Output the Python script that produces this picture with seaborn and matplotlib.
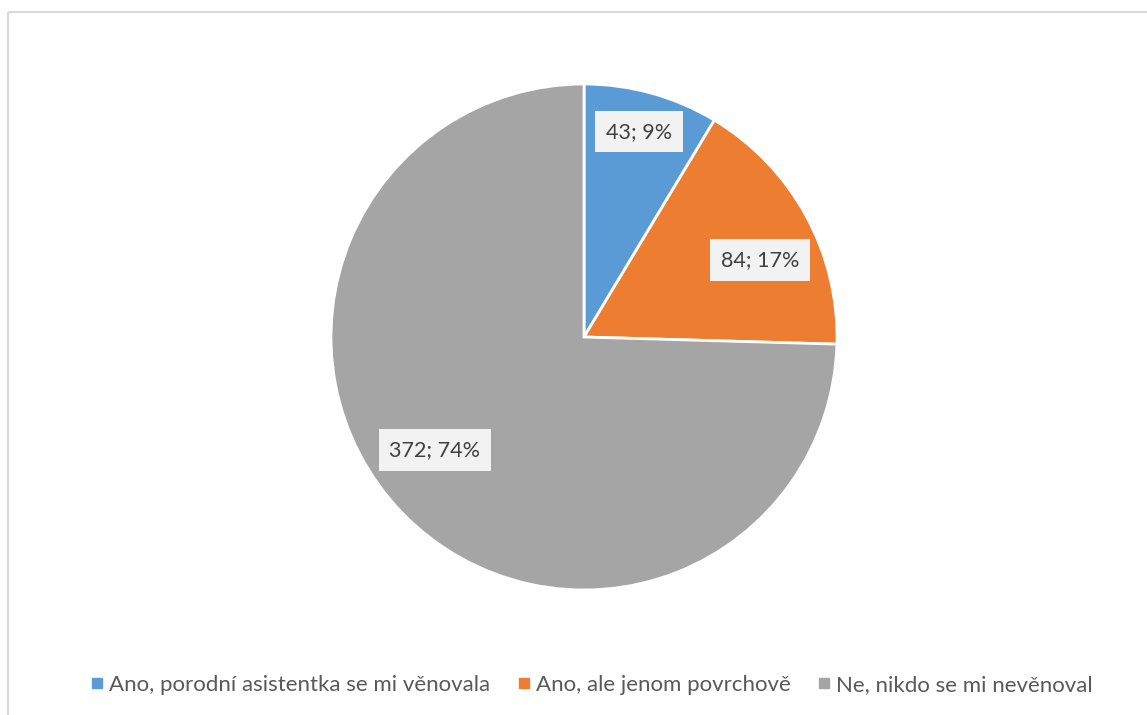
import numpy as np
import matplotlib
matplotlib.use("Agg")
import matplotlib.pyplot as plt
from matplotlib.lines import Line2D
import seaborn as sns

categories = ["Ano, porodní asistentka se mi věnovala",
              "Ano, ale jenom povrchově",
              "Ne, nikdo se mi nevěnoval"]
counts = [43, 84, 372]
percent_labels = ["9%", "17%", "74%"]
colors = ["#5b9bd5", "#ed7d31", "#a5a5a5"]

sns.set_theme(style="white")
plt.rcParams["font.family"] = ["Lato", "DejaVu Sans"]

W, H = 1147, 715
fig = plt.figure(figsize=(W / 100, H / 100), dpi=100)
ax = fig.add_axes([0, 0, 1, 1])

cx, cy, R = 584, H - 337, 253
wedges, _ = ax.pie(counts, colors=colors, startangle=90, counterclock=False,
                   center=(cx, cy), radius=R, frame=True,
                   wedgeprops=dict(edgecolor="white", linewidth=2))
ax.set_xlim(0, W)
ax.set_ylim(0, H)
ax.set_aspect("equal")
ax.axis("off")

# data labels placed inside each wedge (radial fraction, angle nudge in degrees)
label_place = [(0.84, 0.5), (0.76, -5.0), (0.74, -7.0)]
for w, n, p, (frac, dang) in zip(wedges, counts, percent_labels, label_place):
    ang = np.deg2rad((w.theta1 + w.theta2) / 2 + dang)
    ax.text(cx + frac * R * np.cos(ang), cy + frac * R * np.sin(ang),
            f"{n}; {p}", ha="center", va="center", fontsize=15.5,
            color="#404040",
            bbox=dict(boxstyle="square,pad=0.5", facecolor="#f2f2f2",
                      edgecolor="none"))

# chart frame (top and left edges)
ax.plot([7.5, W], [H - 11.5, H - 11.5], color="#d9d9d9", lw=1.5,
        solid_capstyle="butt")
ax.plot([7.5, 7.5], [0, H - 11.5], color="#d9d9d9", lw=1.5,
        solid_capstyle="butt")

handles = [Line2D([], [], marker="s", linestyle="none", markersize=7,
                  markerfacecolor=c, markeredgecolor=c) for c in colors]
fig.legend(handles, categories, loc="center", bbox_to_anchor=(0.514, 30 / H),
           ncol=3, frameon=False, fontsize=16, labelcolor="#595959",
           handletextpad=0.05, columnspacing=1.0, handlelength=1.0)

fig.savefig("out.png", dpi=100, facecolor="white")
